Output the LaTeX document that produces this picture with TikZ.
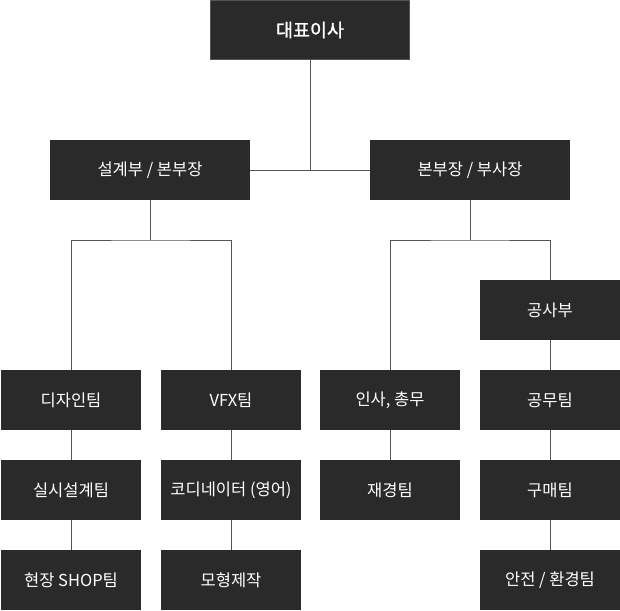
\documentclass[tikz,border=0pt]{standalone}
\usepackage{fontspec}
\setmainfont{Noto Sans CJK KR}
\newfontfamily\topfont{Noto Sans CJK KR}[FakeBold=1.2]
\definecolor{boxfill}{HTML}{2A2A2A}
\definecolor{linecol}{HTML}{555555}
\begin{document}
\begin{tikzpicture}[x=1pt,y=-1pt,
  orgbox/.style={fill=boxfill,text=white,minimum width=140pt,minimum height=60pt,inner sep=0pt,font=\fontsize{16.5}{19}\selectfont},
  widebox/.style={orgbox,minimum width=200pt},
  conn/.style={draw=linecol,line width=1pt}]
\useasboundingbox (0,0) rectangle (620,610);
\node[widebox,draw=linecol,line width=1pt,minimum width=199pt,minimum height=59pt,font=\topfont\fontsize{18.5}{21}\selectfont] (ceo) at (310,30) {대표이사};
\node[widebox] (design) at (150,170) {설계부 / 본부장};
\node[widebox] (vice) at (470,170) {본부장 / 부사장};
\node[orgbox] (const) at (550,310) {공사부};
\node[orgbox] (d1) at (71,400) {디자인팀};
\node[orgbox] (v1) at (231,400) {VFX팀};
\node[orgbox] (h1) at (390,400) {인사, 총무};
\node[orgbox] (g1) at (550,400) {공무팀};
\node[orgbox] (d2) at (71,490) {실시설계팀};
\node[orgbox] (v2) at (231,490) {코디네이터 (영어)};
\node[orgbox] (h2) at (390,490) {재경팀};
\node[orgbox] (g2) at (550,490) {구매팀};
\node[orgbox] (d3) at (71,580) {현장 SHOP팀};
\node[orgbox] (v3) at (231,580) {모형제작};
\node[orgbox] (g3) at (550,580) {안전 / 환경팀};
\coordinate (mid) at (310,170);
\coordinate (lj) at (150,240);
\coordinate (rj) at (470,240);
\draw[conn] (ceo.south) -- (mid);
\draw[conn] (design.east) -- (vice.west);
\draw[conn] (design.south) -- (lj);
\draw[conn] (d1.north) |- (lj) -| (v1.north);
\draw[conn] (vice.south) -- (rj);
\draw[conn] (h1.north) |- (rj) -| (const.north);
\draw[conn] (const.south) -- (g1.north);
\draw[conn] (d1) -- (d2) (d2) -- (d3);
\draw[conn] (v1) -- (v2) (v2) -- (v3);
\draw[conn] (h1) -- (h2);
\draw[conn] (g1) -- (g2) (g2) -- (g3);
\end{tikzpicture}
\end{document}
